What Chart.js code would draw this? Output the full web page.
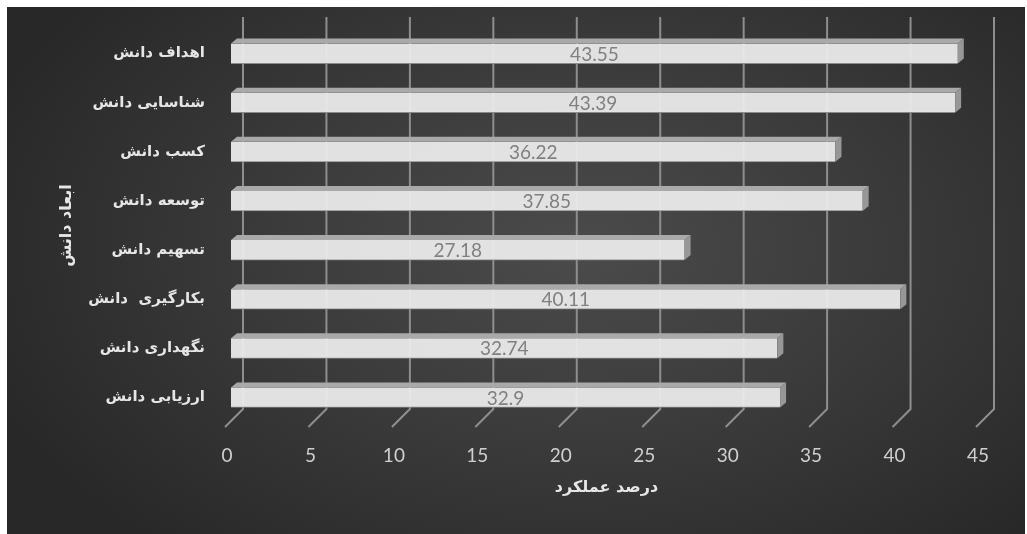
<html>
<head>
  <meta charset="utf-8">
  <script src="https://cdn.jsdelivr.net/npm/chart.js@4/dist/chart.umd.min.js"></script>
  <style>
    body { margin: 0; background: #fff; }
    #wrap {
      position: absolute; left: 7px; top: 7px; width: 1018px; height: 527px;
      background: radial-gradient(ellipse 62% 75% at 56% 46%, #4b4b4b 0%, #3c3c3c 45%, #282828 100%);
    }
  </style>
</head>
<body>
  <div id="wrap"><canvas id="myChart"></canvas></div>
  <script>
    // ابعاد دانش و درصد عملکرد هر کدام
    var categories = ['اهداف دانش', 'شناسایی دانش', 'کسب دانش', 'توسعه دانش', 'تسهیم دانش', 'بکارگیری  دانش', 'نگهداری دانش', 'ارزیابی دانش'];
    var scores = [43.55, 43.39, 36.22, 37.85, 27.18, 40.11, 32.74, 32.9];
    var xTitle = 'درصد عملکرد';
    var yTitle = 'ابعاد دانش';

    // back wall + floor grid lines, drawn in perspective behind the bars
    var wallGrid = {
      id: 'wallGrid',
      beforeDatasetsDraw: function (chart) {
        var ctx = chart.ctx, area = chart.chartArea, x = chart.scales.x;
        ctx.save();
        ctx.strokeStyle = '#8e8e8e';
        ctx.lineWidth = 2;
        x.ticks.forEach(function (t) {
          var px = x.getPixelForValue(t.value);
          ctx.beginPath();
          ctx.moveTo(px + 12, area.top - 12);
          ctx.lineTo(px + 12, area.bottom - 13);
          ctx.lineTo(px - 6, area.bottom + 5);
          ctx.stroke();
        });
        ctx.restore();
      }
    };

    // top and end faces of each bar, then the value in the middle
    var bars3d = {
      id: 'bars3d',
      afterDatasetsDraw: function (chart) {
        var ctx = chart.ctx;
        var meta = chart.getDatasetMeta(0);
        var dx = 6, dy = -5;
        ctx.save();
        meta.data.forEach(function (bar, i) {
          var x0 = bar.base, x1 = bar.x;
          var top = bar.y - bar.height / 2, bot = bar.y + bar.height / 2;
          ctx.fillStyle = '#a9a9a9';
          ctx.beginPath();
          ctx.moveTo(x0, top);
          ctx.lineTo(x0 + dx, top + dy);
          ctx.lineTo(x1 + dx, top + dy);
          ctx.lineTo(x1, top);
          ctx.closePath();
          ctx.fill();
          ctx.fillStyle = '#979797';
          ctx.beginPath();
          ctx.moveTo(x1, top);
          ctx.lineTo(x1 + dx, top + dy);
          ctx.lineTo(x1 + dx, bot + dy);
          ctx.lineTo(x1, bot);
          ctx.closePath();
          ctx.fill();

          ctx.fillStyle = '#808080';
          ctx.font = '19px Lato';
          ctx.textAlign = 'center';
          ctx.textBaseline = 'middle';
          ctx.fillText(String(scores[i]), (x0 + x1) / 2, bar.y + 1);
        });
        ctx.restore();
      }
    };

    var labelFont = { family: 'DejaVu Sans', size: 15, weight: 'bold' };

    var ctx = document.getElementById('myChart').getContext('2d');
    var myChart = new Chart(ctx, {
      type: 'bar',
      data: {
        labels: categories,
        datasets: [{
          data: scores,
          backgroundColor: 'rgba(236,236,236,0.94)',
          borderColor: '#8a8a8a',
          borderWidth: { top: 0, right: 0, bottom: 1, left: 0 },
          borderSkipped: false,
          barThickness: 20
        }]
      },
      options: {
        indexAxis: 'y',
        responsive: true,
        maintainAspectRatio: false,
        animation: false,
        layout: { padding: { left: 46, top: 22, right: 43, bottom: 0 } },
        plugins: {
          legend: { display: false },
          tooltip: { enabled: false }
        },
        scales: {
          x: {
            min: 0,
            max: 45,
            grid: { display: false, drawTicks: false },
            border: { display: false },
            ticks: {
              stepSize: 5,
              padding: 22,
              labelOffset: -4,
              color: '#cfcfcf',
              font: { family: 'Lato', size: 19 }
            },
            title: {
              display: true,
              text: xTitle,
              color: '#e6e6e6',
              font: { family: 'DejaVu Sans', size: 16, weight: 'bold' },
              padding: { top: 4, bottom: 37 }
            },
            afterFit: function (scale) { scale.height = 112; }
          },
          y: {
            grid: { display: false, drawTicks: false },
            border: { display: false },
            ticks: {
              padding: 26,
              color: '#e6e6e6',
              font: labelFont
            },
            title: {
              display: true,
              text: yTitle,
              color: '#e6e6e6',
              font: { family: 'DejaVu Sans', size: 16, weight: 'bold' },
              padding: 4
            },
            afterFit: function (scale) {
              scale.width = 178;
              // tick padding would otherwise push the plot area down
              scale.paddingTop = 0;
              scale.paddingBottom = 0;
            }
          }
        }
      },
      plugins: [wallGrid, bars3d]
    });
  </script>
</body>
</html>
